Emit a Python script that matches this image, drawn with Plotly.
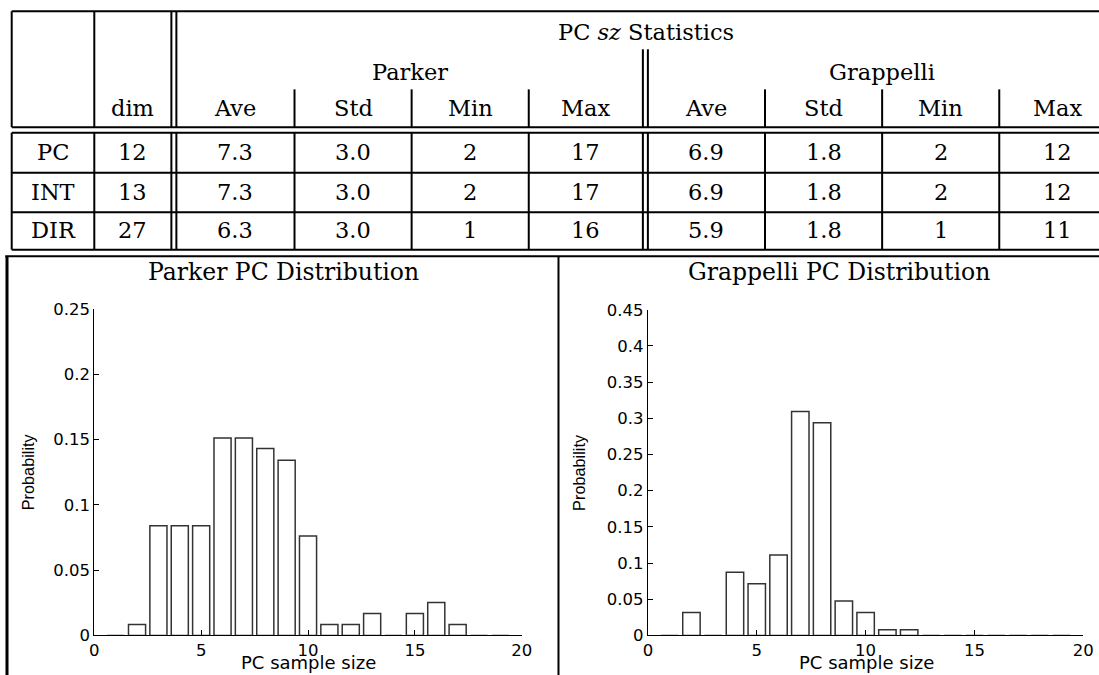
import plotly.graph_objects as go

W, H = 1099, 675
# measured placement of the page inside the returned picture (picture = off + scale * page)
SX, OXP = 0.9853, 2.8
SY, OYP = 0.970, 9.8

# ---------------- data ----------------
row_labels = ["PC", "INT", "DIR"]
dims = [12, 13, 27]
stat_names = ["Ave", "Std", "Min", "Max"]
parker_ave = [7.3, 7.3, 6.3]
parker_std = [3.0, 3.0, 3.0]
parker_min = [2, 2, 1]
parker_max = [17, 17, 16]
grap_ave = [6.9, 6.9, 5.9]
grap_std = [1.8, 1.8, 1.8]
grap_min = [2, 2, 1]
grap_max = [12, 12, 11]

sample_sizes = list(range(1, 20))
parker_prob = [0, 0.0084, 0.084, 0.084, 0.084, 0.151, 0.151, 0.143, 0.134, 0.076,
               0.0084, 0.0084, 0.0168, 0, 0.0168, 0.0252, 0.0084, 0, 0]
grap_prob = [0, 0.0317, 0, 0.0873, 0.0714, 0.111, 0.3095, 0.2937, 0.0476, 0.0317,
             0.0079, 0.0079, 0, 0, 0, 0, 0, 0, 0]

x_ticks = [0, 5, 10, 15, 20]
parker_yticks = [0, 0.05, 0.1, 0.15, 0.2, 0.25]
grap_yticks = [0, 0.05, 0.1, 0.15, 0.2, 0.25, 0.3, 0.35, 0.4, 0.45]

# ---------------- layout geometry (target picture pixels) ----------------
def px(x):
    return ((x - OXP) / SX) / W

def py(y):
    return 1 - ((y - OYP) / SY) / H

SERIF = "DejaVu Serif"
SANS = "DejaVu Sans"

label_col = (9.5, 92)
dim_col = (92, 169)
parker_edges = [174, 292, 409, 526, 640]
grap_edges = [645, 762, 879, 996, 1113]
top_y = 12
hdr_bot1, hdr_bot2 = 127.7, 133.3
row_edges = [133.3, 173.3, 212.7, 250]
sub_top = 90
group_top = 50

shapes = []
annotations = []

def hline(x0, x1, y, w=2):
    shapes.append(dict(type="line", xref="paper", yref="paper",
                       x0=px(x0), x1=px(x1), y0=py(y), y1=py(y),
                       line=dict(color="black", width=w)))

def vline(x, y0, y1, w=2):
    shapes.append(dict(type="line", xref="paper", yref="paper",
                       x0=px(x), x1=px(x), y0=py(y0), y1=py(y1),
                       line=dict(color="black", width=w)))

def text(t, x, y, size=22.5, font=SERIF, angle=0, xanchor="center"):
    annotations.append(dict(text=t, xref="paper", yref="paper", x=px(x), y=py(y),
                            xanchor=xanchor, yanchor="middle", showarrow=False,
                            textangle=angle,
                            font=dict(family=font, size=size, color="black")))

right_edge = W + 20
for y in [top_y, hdr_bot1, hdr_bot2] + row_edges[1:]:
    hline(label_col[0], right_edge, y)

def vsplit(x, start):
    vline(x, start, hdr_bot1)
    vline(x, hdr_bot2, row_edges[-1])

for x in [label_col[0], label_col[1], dim_col[1], parker_edges[0]]:
    vsplit(x, top_y)
for x in parker_edges[1:-1] + grap_edges[1:-1]:
    vsplit(x, sub_top)
for x in [parker_edges[-1], grap_edges[0]]:
    vsplit(x, group_top)

text("PC <i>sz</i> Statistics", (parker_edges[0] + grap_edges[-1]) / 2, 33)
text("Parker", (parker_edges[0] + parker_edges[-1]) / 2, 73)
text("Grappelli", (grap_edges[0] + grap_edges[-1]) / 2, 73)
text("dim", sum(dim_col) / 2, 109)
for i, s in enumerate(stat_names):
    text(s, (parker_edges[i] + parker_edges[i + 1]) / 2, 109)
    text(s, (grap_edges[i] + grap_edges[i + 1]) / 2, 109)

for r, lab in enumerate(row_labels):
    yc = (row_edges[r] + row_edges[r + 1]) / 2 - 1
    text(lab, sum(label_col) / 2, yc)
    text(str(dims[r]), sum(dim_col) / 2, yc)
    pvals = [f"{parker_ave[r]:.1f}", f"{parker_std[r]:.1f}", str(parker_min[r]), str(parker_max[r])]
    gvals = [f"{grap_ave[r]:.1f}", f"{grap_std[r]:.1f}", str(grap_min[r]), str(grap_max[r])]
    for i in range(4):
        text(pvals[i], (parker_edges[i] + parker_edges[i + 1]) / 2, yc)
        text(gvals[i], (grap_edges[i] + grap_edges[i + 1]) / 2, yc)

panel_top = 256.5
hline(3, W + 20, panel_top)
vline(4.8, panel_top, H + 20, w=3)
vline(555.7, panel_top, H + 20)

text("Parker PC Distribution", 281, 272, size=23.5)
text("Grappelli PC Distribution", 836, 272, size=23.5)
text("Probability", 26, 472, size=16.3, font="Liberation Sans", angle=-90)
text("Probability", 576, 472, size=16.3, font="Liberation Sans", angle=-90)
text("PC sample size", 306, 662, size=18, font=SANS)
text("PC sample size", 863, 662, size=18, font=SANS)

fig = go.Figure()
bar_style = dict(marker=dict(color="white", line=dict(color="#333333", width=1.5)),
                 width=0.8, showlegend=False, hoverinfo="x+y")
fig.add_trace(go.Bar(x=sample_sizes, y=parker_prob, xaxis="x", yaxis="y", **bar_style))
fig.add_trace(go.Bar(x=sample_sizes, y=grap_prob, xaxis="x2", yaxis="y2", **bar_style))

axis_common = dict(showgrid=False, zeroline=False, showline=True, linecolor="black",
                   linewidth=1, ticks="inside", ticklen=5, tickcolor="black",
                   tickfont=dict(family=SANS, size=16.5, color="black"))

def fmt(v):
    return ("%g" % v)

fig.update_layout(
    autosize=True, margin=dict(l=0, r=0, t=0, b=0),
    paper_bgcolor="white", plot_bgcolor="white",
    xaxis=dict(domain=[px(92), px(519)], range=[0, 20], anchor="y",
               tickvals=x_ticks, ticktext=[fmt(v) for v in x_ticks], **axis_common),
    yaxis=dict(domain=[py(635), py(309)], range=[0, 0.25], anchor="x",
               tickvals=parker_yticks, ticktext=[fmt(v) for v in parker_yticks], **axis_common),
    xaxis2=dict(domain=[px(645), px(1080)], range=[0, 20], anchor="y2",
                tickvals=x_ticks, ticktext=[fmt(v) for v in x_ticks], **axis_common),
    yaxis2=dict(domain=[py(635), py(310)], range=[0, 0.45], anchor="x2",
                tickvals=grap_yticks, ticktext=[fmt(v) for v in grap_yticks], **axis_common),
    shapes=shapes, annotations=annotations,
)

fig.write_html(
    "out.html",
    config={"displayModeBar": False},
    default_width="1099px; position:fixed; left:0; top:0",
    default_height="675px",
    post_script="document.body.style.margin='0';document.body.style.overflow='hidden';",
)
